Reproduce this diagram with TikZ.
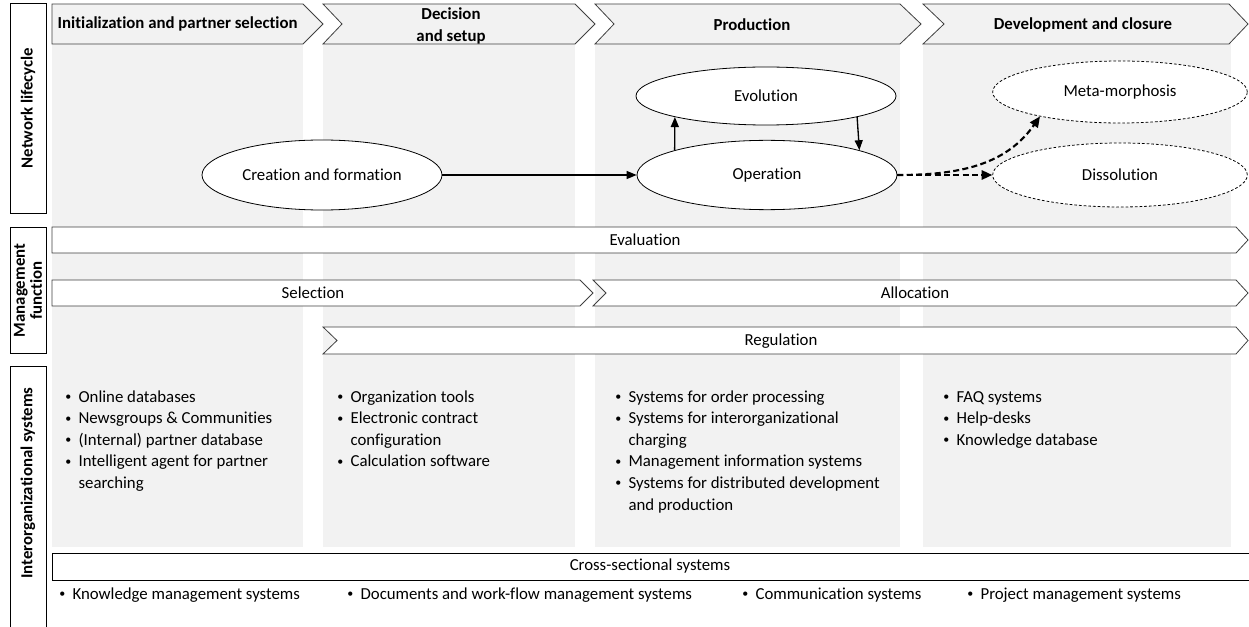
\documentclass[tikz,border=0pt]{standalone}
\usepackage{fontspec}
\setmainfont[Ligatures=NoCommon]{Carlito}
\usepackage{xcolor}
\usepackage{tikz}
\usetikzlibrary{arrows.meta,shapes.geometric}

\definecolor{panelgray}{HTML}{F2F2F2}
\definecolor{edgegray}{HTML}{404040}

\newcommand{\basefont}{\fontsize{12.6}{16.2}\selectfont}
\newcommand{\itm}{\raisebox{1.2pt}{\fontsize{9}{9}\selectfont\textbullet}}
% chevron outline: style, left x, notch, right x, tip, top y, bottom y
\newcommand{\chevronpath}[7][]{%
	\draw[#1] (#2,#6) -- (#4,#6) -- ({#4+#5},{(#6+#7)/2}) -- (#4,#7)
	-- (#2,#7) -- ({#2+#3},{(#6+#7)/2}) -- cycle;}

\begin{document}
\begin{tikzpicture}
	[
	x=0.75pt, y=-0.75pt,
	every node/.style={font=\basefont},
	panel/.style={
		fill=panelgray,
		draw=none
	},
	phasearrow/.style={
		fill=panelgray,
		draw=edgegray,
		line width=0.6pt
	},
	fnarrow/.style={
		fill=white,
		draw=edgegray,
		line width=0.6pt
	},
	phasetext/.style={
		font=\bfseries\basefont,
		align=center
	},
	sidebox/.style={
		draw,
		fill=white,
		line width=0.6pt,
		rotate=90,
		minimum height=27pt,
		inner sep=0pt,
		font=\bfseries\fontsize{12.6}{12.8}\selectfont,
		align=center
	},
	stage/.style={
		ellipse,
		draw,
		fill=white,
		line width=0.6pt,
		inner sep=0pt,
		minimum width=195pt,
		minimum height=52pt
	},
	stagefuture/.style={
		stage,
		dash pattern=on 2pt off 1.5pt,
		minimum width=191pt
	},
	arrow/.style={
		-{Triangle[length=7.5pt,width=6pt]},
		line width=1pt
	},
	dasharrow/.style={
		-{Triangle[length=8pt,width=7pt]},
		line width=1.6pt,
		dash pattern=on 4.5pt off 2.5pt
	},
	list/.style={
		anchor=base west,
		inner sep=0pt
	}
	]
	\useasboundingbox (0,0) rectangle (1249,627);
	
	% Phase columns
	\fill[panel] (52,44) rectangle (303,547);
	\fill[panel] (323,44) rectangle (575,547);
	\fill[panel] (595,44) rectangle (900,547);
	\fill[panel] (923,44) rectangle (1231,547);
	
	% Phase headers
	\chevronpath[phasearrow]{52}{0}{303}{20}{4}{44}
	\chevronpath[phasearrow]{323}{19}{575}{20}{4}{44}
	\chevronpath[phasearrow]{595}{19}{900}{21}{4}{44}
	\chevronpath[phasearrow]{923}{21}{1229}{19}{4}{44}
	
	\node[phasetext, anchor=west] (phase_init) at (53,24)
	{Initialization and partner selection};
	\node[phasetext] (phase_decision) at (451,26)
	{Decision\\and setup};
	\node[phasetext] (phase_production) at (752,25)
	{Production};
	\node[phasetext] (phase_closure) at (1083,25)
	{Development and closure};
	
	% Row labels
	\node[sidebox, minimum width=157.5pt] (lifecycle_label) at (28,108)
	{Network lifecycle};
	\node[sidebox, minimum width=95pt] (management_label) at (28,290.5)
	{Management\\function};
	\draw[line width=0.6pt] (10,640) |- (46,366) -- (46,640);
	\node[sidebox, draw=none, fill=none] (interorg_label) at (28,483)
	{Interorganizational systems};
	
	% Management functions
	\chevronpath[fnarrow]{52}{0}{1236}{12}{227}{253}
	\chevronpath[fnarrow]{52}{0}{580}{13}{280}{306}
	\chevronpath[fnarrow]{593}{13}{1236}{12}{280}{306}
	\chevronpath[fnarrow]{323}{14}{1236}{12}{327}{354}
	
	\node (fn_evaluation) at (645,240) {Evaluation};
	\node (fn_selection) at (313,293) {Selection};
	\node (fn_allocation) at (915,293) {Allocation};
	\node (fn_regulation) at (781,341) {Regulation};
	
	% Lifecycle stages
	\node[stage, minimum width=180pt, minimum height=52.5pt] (creation_formation) at (322,175)
	{Creation and formation};
	\node[stage] (operation) at (767,175)
	{Operation};
	\node[stage, minimum height=43.5pt] (evolution) at (766,96)
	{Evolution};
	\node[stagefuture, minimum height=46.5pt] (metamorphosis) at (1120,92)
	{Meta-morphosis};
	\node[stagefuture, minimum height=48pt] (dissolution) at (1120,175)
	{Dissolution};
	
	% Arrows
	\draw[arrow] (creation_formation) -- (operation);
	\draw[arrow] (operation.165) -- (evolution.193);
	\draw[arrow] (evolution.347) -- (operation.15);
	\draw[dasharrow] (operation) -- (dissolution);
	\draw[dasharrow] (operation.east) to[out=0, in=235] (metamorphosis.197);
	
	% Systems per phase
	\node[list] (init_systems) at (65,402)
	{\begin{tabular}[t]{@{}l@{\hspace{5.5pt}}l@{}}
		\itm & Online databases\\
		\itm & Newsgroups \& Communities\\
		\itm & (Internal) partner database\\
		\itm & Intelligent agent for partner\\
		& searching
	\end{tabular}};
	\node[list] (decision_systems) at (337,402)
	{\begin{tabular}[t]{@{}l@{\hspace{5.5pt}}l@{}}
		\itm & Organization tools\\
		\itm & Electronic contract\\
		& configuration\\
		\itm & Calculation software
	\end{tabular}};
	\node[list] (production_systems) at (615,402)
	{\begin{tabular}[t]{@{}l@{\hspace{5.5pt}}l@{}}
		\itm & Systems for order processing\\
		\itm & Systems for interorganizational\\
		& charging\\
		\itm & Management information systems\\
		\itm & Systems for distributed development\\
		& and production
	\end{tabular}};
	\node[list] (closure_systems) at (943,402)
	{\begin{tabular}[t]{@{}l@{\hspace{5.5pt}}l@{}}
		\itm & FAQ systems\\
		\itm & Help-desks\\
		\itm & Knowledge database
	\end{tabular}};
	
	% Cross-sectional systems
	\draw[fill=white, line width=0.6pt] (52,553) rectangle (1255,580);
	\node (cross_sectional) at (650,566) {Cross-sectional systems};
	
	\node[list] (knowledge_mgmt) at (59,599) {\itm\hspace{5.5pt}Knowledge management systems};
	\node[list] (workflow_mgmt) at (347,599) {\itm\hspace{5.5pt}Documents and work-flow management systems};
	\node[list] (communication) at (742,599) {\itm\hspace{5.5pt}Communication systems};
	\node[list] (project_mgmt) at (967,599) {\itm\hspace{5.5pt}Project management systems};
	
\end{tikzpicture}
\end{document}
